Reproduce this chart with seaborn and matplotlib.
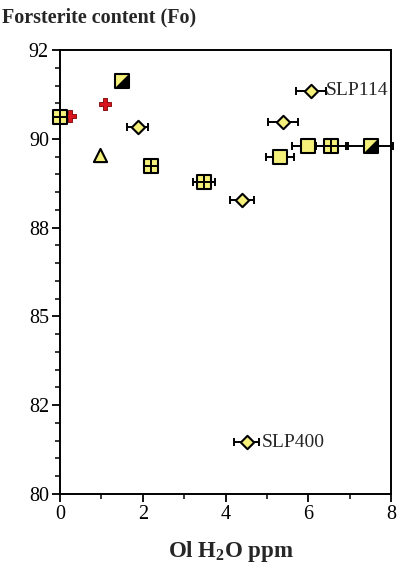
import numpy as np
import pandas as pd
import matplotlib
matplotlib.use('Agg')
import matplotlib.pyplot as plt
import seaborn as sns

# --- data ---
# squares with an inner cross
grid_x = [0.0, 2.2, 3.48, 6.55]
grid_y = [90.62, 89.24, 88.79, 89.80]
grid_err = [0.0, 0.0, 0.26, 0.36]

# plain yellow squares
sq_x = [5.31, 5.99]
sq_y = [89.49, 89.80]
sq_err = [0.34, 0.38]

# half black squares
half_x = [1.50, 7.51]
half_y = [91.63, 89.80]
half_err = [0.0, 0.55]

# diamonds
dia_x = [1.88, 4.40, 5.39, 6.06, 4.51]
dia_y = [90.34, 88.28, 90.48, 91.35, 81.46]
dia_err = [0.25, 0.30, 0.37, 0.36, 0.31]

# red crosses
cross_x = [0.24, 1.09]
cross_y = [90.65, 90.99]

# triangle
tri_x = [0.97]
tri_y = [89.55]

sample_labels = ['SLP114', 'SLP400']
sample_x = [6.06, 4.51]
sample_y = [91.35, 81.46]

y_ticks = [80, 82.5, 85, 87.5, 90, 92.5]
y_ticklabels = ['80', '82', '85', '88', '90', '92']
x_ticks = [0, 2, 4, 6, 8]

YELLOW = '#f4f07a'
RED = '#d8141c'

sns.set_style('ticks')
plt.rcParams['font.family'] = ['Liberation Serif', 'DejaVu Serif']
plt.rcParams['mathtext.fontset'] = 'custom'
plt.rcParams['mathtext.rm'] = 'Liberation Serif'
plt.rcParams['mathtext.bf'] = 'Liberation Serif:bold'
plt.rcParams['mathtext.default'] = 'bf'

fig = plt.figure(figsize=(3.98, 5.64), dpi=100)
ax = fig.add_axes([60 / 398, 70 / 564, 331 / 398, 444 / 564])


def ebars(x, y, err):
    ax.errorbar(x, y, xerr=err, fmt='none', ecolor='black', elinewidth=1.4,
                capsize=2.8, capthick=1.4, clip_on=False, zorder=2)


def points(x, y, marker, size, color, edge='black', lw=1.5, z=3):
    df = pd.DataFrame({'x': x, 'y': y})
    sns.scatterplot(data=df, x='x', y='y', marker=marker, s=size ** 2, color=color,
                    edgecolor=edge, linewidth=lw, ax=ax, clip_on=False, zorder=z,
                    legend=False)


ebars(grid_x, grid_y, grid_err)
ebars(sq_x, sq_y, sq_err)
ebars(half_x, half_y, half_err)
ebars(dia_x, dia_y, dia_err)

points(cross_x, cross_y, 'P', 9.0, RED, edge='#7a0000', lw=0.6, z=3)
points(tri_x, tri_y, '^', 9.5, YELLOW, z=4)
points(dia_x, dia_y, 'D', 6.8, YELLOW, z=4)
points(sq_x, sq_y, 's', 9.4, YELLOW, z=4)
points(grid_x, grid_y, 's', 9.4, YELLOW, z=4)
ax.plot(grid_x, grid_y, ls='none', marker='+', ms=9.4, mew=1.4, color='black',
        clip_on=False, zorder=5)
points(half_x, half_y, 's', 9.4, YELLOW, z=4)
lower_right = [(1, 1), (1, -1), (-1, -1)]
ax.plot(half_x, half_y, ls='none', marker=lower_right, ms=9.4, mew=0,
        color='black', clip_on=False, zorder=5)

for lab, lx, ly in zip(sample_labels, sample_x, sample_y):
    ax.annotate(lab, (lx, ly), xytext=(11, 0), textcoords='offset points',
                va='center', ha='left', fontsize=14)

ax.set_xlim(0, 8)
ax.set_ylim(80, 92.5)
ax.set_xticks(x_ticks)
ax.set_xticks(np.arange(1, 8, 2), minor=True)
ax.set_yticks(y_ticks)
ax.set_yticklabels(y_ticklabels)
ax.set_yticks(np.arange(80, 92.6, 0.5), minor=True)
ax.tick_params(axis='both', which='major', direction='out', length=6, width=1.3,
               labelsize=14.5, colors='black', pad=2)
ax.tick_params(axis='both', which='minor', direction='out', length=3.5, width=1.3)
for s in ax.spines.values():
    s.set_visible(True)
    s.set_linewidth(1.4)
    s.set_color('black')
ax.set_xlabel('')
ax.set_ylabel('')

fig.text(0.005, 1 - 17 / 564, 'Forsterite content (Fo)', fontsize=14.5,
         fontweight='bold', va='center', ha='left')
fig.text(231 / 398, 1 - 551 / 564, 'Ol H$_2$O ppm', fontsize=16.5,
         fontweight='bold', va='center', ha='center')

fig.savefig('out.png', dpi=100)
